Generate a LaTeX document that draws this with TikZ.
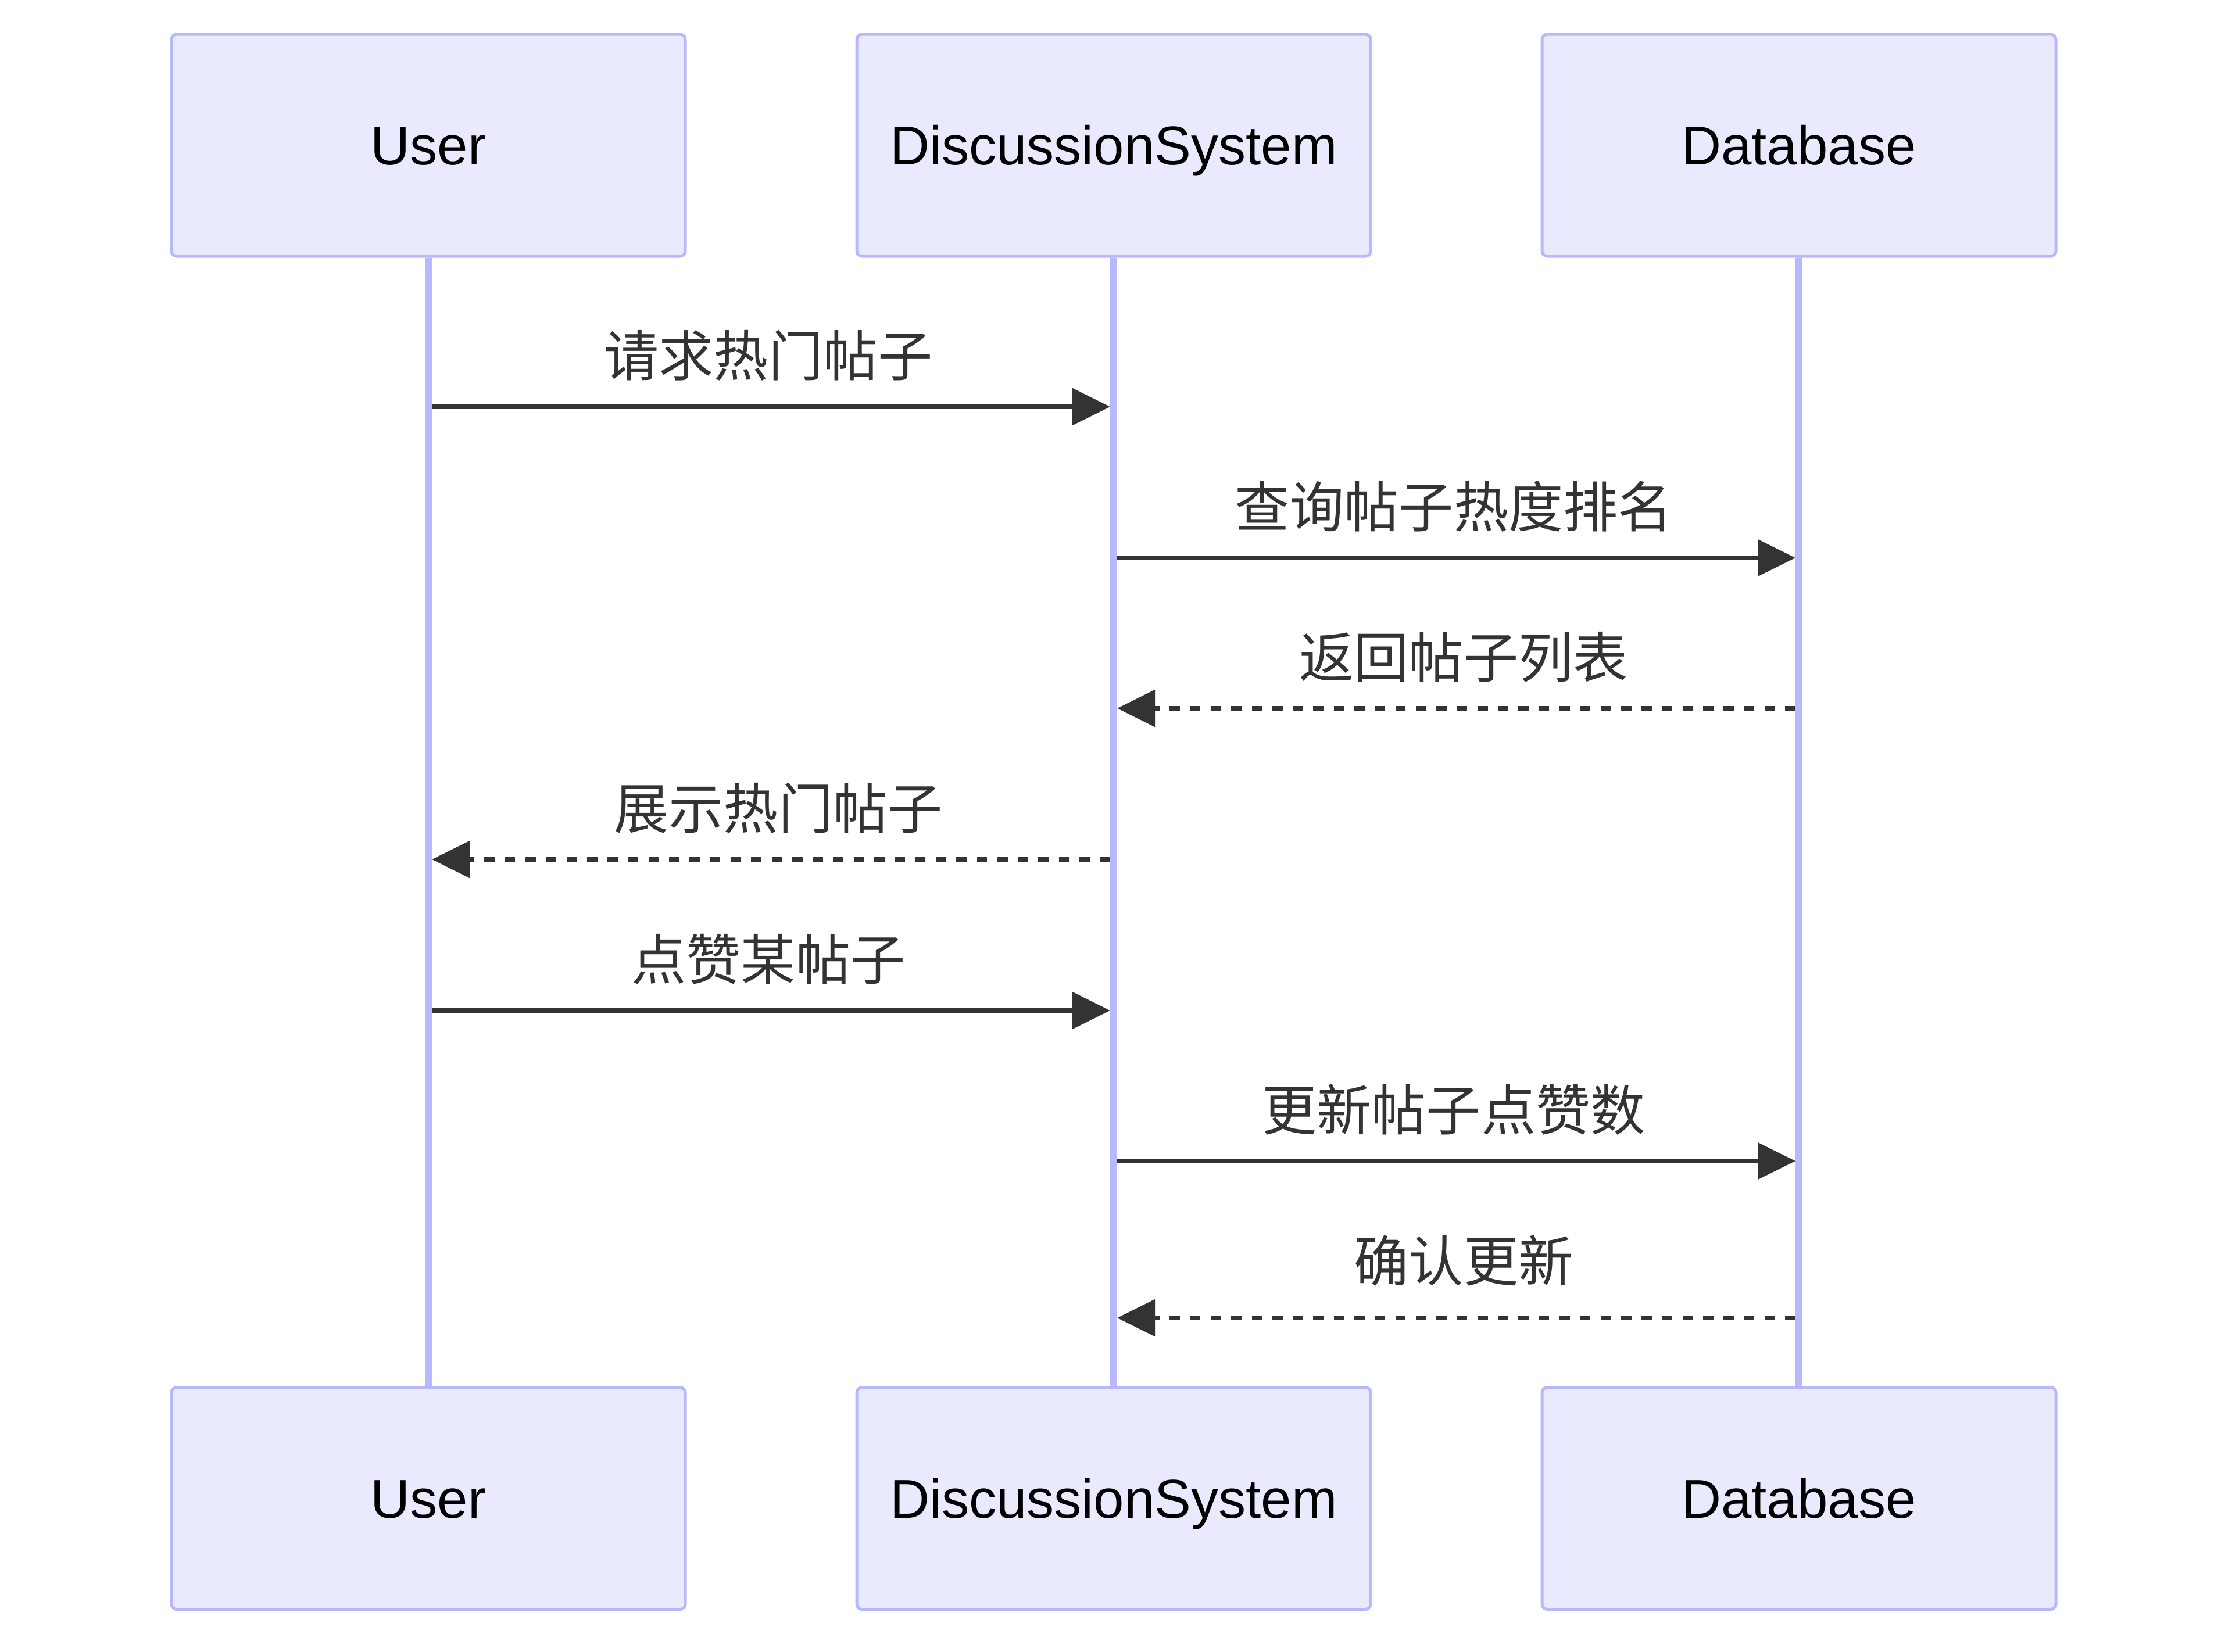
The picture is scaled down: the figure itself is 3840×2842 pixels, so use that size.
\documentclass[tikz,border=0pt]{standalone}
\usepackage{fontspec}
\setmainfont{Liberation Sans}
\newfontfamily\cjk{Noto Sans CJK SC}
\usetikzlibrary{arrows.meta}
\definecolor{actfill}{HTML}{EAEAFF}
\definecolor{actline}{HTML}{B8B8FF}
\definecolor{msgcol}{HTML}{333333}
\tikzset{
  actor/.style={draw=actline, line width=0.5mm, fill=actfill, rounded corners=0.9mm,
    minimum width=88.4mm, minimum height=38.2mm, inner sep=0pt,
    font=\fontsize{26.8pt}{30pt}\selectfont, text height=19.2pt, text depth=0pt, text=black},
  lifeline/.style={draw=actline, line width=1.2mm},
  msgline/.style={draw=msgcol, line width=0.85mm, shorten <=0.6mm, shorten >=0.6mm,
    -{Triangle[length=6.5mm,width=6.2mm]}},
  reply/.style={msgline, dash pattern=on 1.77mm off 1.76mm},
  lbl/.style={anchor=base, inner sep=0pt, text=msgcol, font=\cjk\fontsize{26.8pt}{30pt}\selectfont}
}
\begin{document}
\begin{tikzpicture}[x=0.1mm,y=-0.1mm]
\useasboundingbox (0,0) rectangle (3840,2842);
% actors
\node[actor] (uT) at (737,250) {User};
\node[actor] (sT) at (1916,250) {DiscussionSystem};
\node[actor] (dT) at (3095,250) {Database};
\node[actor] (uB) at (737,2578.5) {User};
\node[actor] (sB) at (1916,2578.5) {DiscussionSystem};
\node[actor] (dB) at (3095,2578.5) {Database};
% lifelines
\draw[lifeline] (uT.south) -- (uB.north);
\draw[lifeline] (sT.south) -- (sB.north);
\draw[lifeline] (dT.south) -- (dB.north);
% message points
\coordinate (u1) at (737,700);  \coordinate (s1) at (1916,700);
\coordinate (s2) at (1916,960); \coordinate (d2) at (3095,960);
\coordinate (d3) at (3095,1219); \coordinate (s3) at (1916,1219);
\coordinate (s4) at (1916,1479); \coordinate (u4) at (737,1479);
\coordinate (u5) at (737,1739); \coordinate (s5) at (1916,1739);
\coordinate (s6) at (1916,1998); \coordinate (d6) at (3095,1998);
\coordinate (d7) at (3095,2268); \coordinate (s7) at (1916,2268);
% messages
\draw[msgline] (u1) -- (s1);
\draw[msgline] (s2) -- (d2);
\draw[reply] (d3) -- (s3);
\draw[reply] (s4) -- (u4);
\draw[msgline] (u5) -- (s5);
\draw[msgline] (s6) -- (d6);
\draw[reply] (d7) -- (s7);
% labels
\node[lbl] (l1) at (1322,647) {请求热门帖子};
\node[lbl] (l2) at (2501,907) {查询帖子热度排名};
\node[lbl] (l3) at (2518,1166) {返回帖子列表};
\node[lbl] (l4) at (1339,1426) {展示热门帖子};
\node[lbl] (l5) at (1322,1686) {点赞某帖子};
\node[lbl] (l6) at (2501,1945) {更新帖子点赞数};
\node[lbl] (l7) at (2518,2205) {确认更新};
\end{tikzpicture}
\end{document}
